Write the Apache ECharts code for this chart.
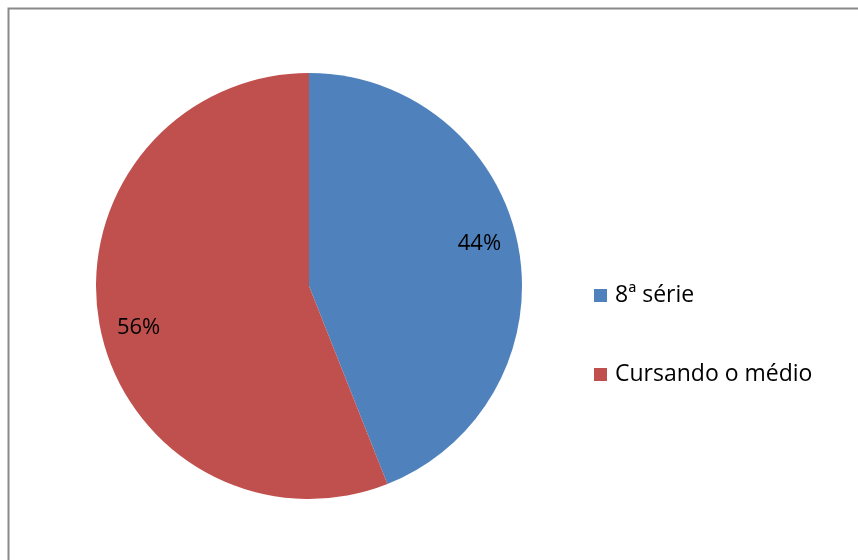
<!DOCTYPE html>
<html>
<head>
<meta charset="utf-8">
<script src="https://cdn.jsdelivr.net/npm/echarts@6/dist/echarts.min.js"></script>
<style>
  html, body { margin: 0; padding: 0; background: #fff; }
  #chart { width: 858px; height: 560px; }
</style>
</head>
<body>
<div id="chart"></div>
<script>
// Escolaridade: proporção por categoria
const categories = ['8ª série', 'Cursando o médio'];
const values = [44, 56];
const colors = ['#4F81BD', '#C0504D'];

const FONT = 'Open Sans';
const pieData = categories.map((name, i) => ({
  name: name,
  value: values[i],
  itemStyle: { color: colors[i] }
}));

const chart = echarts.init(document.getElementById('chart'), null, { renderer: 'canvas' });
chart.setOption({
  animation: false,
  backgroundColor: '#ffffff',
  graphic: [{
    type: 'rect',
    shape: { x: 8.5, y: 8.5, width: 870, height: 570 },
    style: { fill: 'none', stroke: '#898989', lineWidth: 2 },
    silent: true
  }],
  legend: {
    orient: 'vertical',
    left: 589,
    top: 279,
    itemWidth: 13,
    itemHeight: 13,
    itemGap: 56,
    icon: 'rect',
    textStyle: { fontFamily: FONT, fontSize: 23, color: '#000', padding: [0, 0, 0, 3] },
    data: categories
  },
  series: [
    {
      type: 'pie',
      center: [309, 286],
      radius: 213,
      startAngle: 90,
      clockwise: true,
      label: { show: false },
      labelLine: { show: false },
      itemStyle: { borderWidth: 0 },
      data: pieData,
      silent: true
    },
    {
      // transparent ring used only to place percentage labels near the rim
      type: 'pie',
      center: [309, 286],
      radius: [132, 213],
      startAngle: 93,
      clockwise: true,
      itemStyle: { color: 'transparent', borderWidth: 0 },
      label: {
        show: true,
        position: 'inside',
        formatter: p => p.value + '%',
        fontFamily: FONT,
        fontSize: 22,
        color: '#000'
      },
      labelLine: { show: false },
      data: categories.map((name, i) => ({ name: name, value: values[i] })),
      legendHoverLink: false,
      silent: true
    }
  ]
});
</script>
</body>
</html>
